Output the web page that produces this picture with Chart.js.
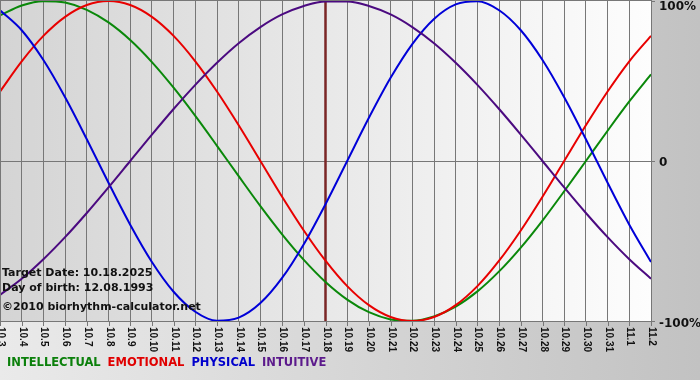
<!DOCTYPE html>
<html>
<head>
<meta charset="utf-8">
<script src="https://cdn.jsdelivr.net/npm/chart.js@4.4.1/dist/chart.umd.min.js"></script>
<style>
html, body { margin: 0; padding: 0; background: #d8d8d8; }
canvas { display: block; }
</style>
</head>
<body>
<canvas id="bio" width="700" height="380"></canvas>
<script>
const days = ['10.3', '10.4', '10.5', '10.6', '10.7', '10.8', '10.9', '10.10', '10.11', '10.12',
    '10.13', '10.14', '10.15', '10.16', '10.17', '10.18', '10.19', '10.20', '10.21', '10.22',
    '10.23', '10.24', '10.25', '10.26', '10.27', '10.28', '10.29', '10.30', '10.31', '11.1', '11.2'];

const intellectual = [0.910, 0.972, 0.999, 0.990, 0.945, 0.866, 0.756, 0.618, 0.458, 0.282, 0.095, -0.095, -0.282,
    -0.458, -0.618, -0.756, -0.866, -0.945, -0.990, -0.999, -0.972, -0.910, -0.815, -0.690, -0.541, -0.372, -0.189,
    0.000, 0.189, 0.372, 0.541];
const emotional = [0.434, 0.623, 0.782, 0.901, 0.975, 1.000, 0.975, 0.901, 0.782, 0.623, 0.434, 0.223, 0.000,
    -0.223, -0.434, -0.623, -0.782, -0.901, -0.975, -1.000, -0.975, -0.901, -0.782, -0.623, -0.434, -0.223,
    0.000, 0.223, 0.434, 0.623, 0.782];
const physical = [0.942, 0.817, 0.631, 0.398, 0.136, -0.136, -0.398, -0.631, -0.817, -0.942, -0.998, -0.979, -0.888,
    -0.731, -0.520, -0.270, 0.000, 0.270, 0.520, 0.731, 0.888, 0.979, 0.998, 0.942, 0.817, 0.631, 0.398, 0.136,
    -0.136, -0.398, -0.631];
const intuitive = [-0.837, -0.736, -0.614, -0.476, -0.325, -0.165, 0.000, 0.165, 0.325, 0.476, 0.614, 0.736, 0.837,
    0.916, 0.969, 0.997, 0.997, 0.969, 0.916, 0.837, 0.736, 0.614, 0.476, 0.325, 0.165, 0.000, -0.165, -0.325,
    -0.476, -0.614, -0.736];

const targetDay = '10.18';
const yLabels = [[1, '100%'], [0, '0'], [-1, '-100%']];
const legendItems = [['INTELLECTUAL', '#0b800b'], ['EMOTIONAL', '#e00000'], ['PHYSICAL', '#0000cc'], ['INTUITIVE', '#5c1a8c']];
const infoLines = ['Target Date: 10.18.2025', 'Day of birth: 12.08.1993', '\u00a92010 biorhythm-calculator.net'];

const bioPlugin = {
    id: 'bio',
    beforeDraw(chart) {
        const { ctx, chartArea: a, width, height } = chart;
        ctx.save();
        let g = ctx.createLinearGradient(0, 0, width, 0);
        g.addColorStop(0, '#eaeaea');
        g.addColorStop(1, '#c2c2c2');
        ctx.fillStyle = g;
        ctx.fillRect(0, 0, width, height);
        g = ctx.createLinearGradient(a.left, 0, a.right, 0);
        g.addColorStop(0, '#d4d4d4');
        g.addColorStop(1, '#fdfdfd');
        ctx.fillStyle = g;
        ctx.fillRect(a.left, a.top, a.right - a.left, a.bottom - a.top);
        ctx.restore();
    },
    beforeDatasetsDraw(chart) {
        const { ctx, chartArea: a } = chart;
        const x = chart.scales.x.getPixelForValue(days.indexOf(targetDay));
        ctx.save();
        ctx.strokeStyle = '#7a2626';
        ctx.lineWidth = 2.5;
        ctx.beginPath();
        ctx.moveTo(x, a.top);
        ctx.lineTo(x, a.bottom);
        ctx.stroke();
        ctx.restore();
    },
    afterDraw(chart) {
        const { ctx, chartArea: a } = chart;
        const xs = chart.scales.x, ys = chart.scales.y;
        ctx.save();

        // frame
        ctx.strokeStyle = '#777';
        ctx.lineWidth = 1;
        ctx.strokeRect(a.left + 0.5, a.top - 0.5, a.right - a.left, a.bottom - a.top + 1);

        // x ticks + rotated labels
        ctx.font = 'bold 10px "Liberation Sans", Arial, sans-serif';
        ctx.fillStyle = '#111';
        ctx.textAlign = 'left';
        ctx.textBaseline = 'middle';
        days.forEach((d, i) => {
            const x = Math.round(xs.getPixelForTick(i)) + 0.5;
            ctx.beginPath();
            ctx.moveTo(x, a.bottom);
            ctx.lineTo(x, a.bottom + 5);
            ctx.stroke();
            ctx.save();
            ctx.translate(x, a.bottom + 6);
            ctx.rotate(Math.PI / 2);
            ctx.fillText(d, 0, 0);
            ctx.restore();
        });

        // y labels on the right
        ctx.font = 'bold 12px "DejaVu Sans", Verdana, sans-serif';
        const yOff = { '1': 6, '0': 2, '-1': 3 };
        yLabels.forEach(([v, t]) => {
            const y = ys.getPixelForValue(v);
            ctx.beginPath();
            ctx.moveTo(a.right, Math.round(y) + 0.5);
            ctx.lineTo(a.right + 4, Math.round(y) + 0.5);
            ctx.stroke();
            ctx.fillText(t, a.right + 8, y + yOff[String(v)]);
        });

        // info text
        ctx.font = 'bold 11px "DejaVu Sans", Verdana, sans-serif';
        ctx.textBaseline = 'alphabetic';
        ctx.fillStyle = '#111';
        ctx.fillText(infoLines[0], 2, 276);
        ctx.fillText(infoLines[1], 2, 291);
        ctx.fillText(infoLines[2], 2, 310);

        // legend
        ctx.font = 'bold 11.5px "DejaVu Sans", Verdana, sans-serif';
        let lx = 7;
        legendItems.forEach(([t, c]) => {
            ctx.fillStyle = c;
            ctx.fillText(t, lx, 366);
            lx += ctx.measureText(t).width + 7;
        });
        ctx.restore();
    }
};

function series(label, data, color) {
    return {
        label: label,
        data: data,
        borderColor: color,
        borderWidth: 2,
        pointRadius: 0,
        cubicInterpolationMode: 'monotone',
        fill: false
    };
}

new Chart(document.getElementById('bio').getContext('2d'), {
    type: 'line',
    data: {
        labels: days,
        datasets: [
            series('INTUITIVE', intuitive, '#4b0a80'),
            series('PHYSICAL', physical, '#0000d8'),
            series('EMOTIONAL', emotional, '#e80000'),
            series('INTELLECTUAL', intellectual, '#0a880a')
        ]
    },
    options: {
        responsive: false,
        animation: false,
        layout: { padding: { top: 1, left: 0, right: 0, bottom: 0 } },
        scales: {
            x: {
                offset: false,
                ticks: { display: false },
                grid: { color: '#777', lineWidth: 1, drawTicks: false },
                border: { display: false },
                afterFit: s => { s.height = 59; }
            },
            y: {
                position: 'right',
                min: -1,
                max: 1,
                ticks: { display: false, stepSize: 1 },
                grid: {
                    drawTicks: false,
                    color: c => c.tick && c.tick.value === 0 ? '#777' : 'rgba(0,0,0,0)'
                },
                border: { display: false },
                afterFit: s => { s.width = 49; }
            }
        },
        plugins: {
            legend: { display: false },
            tooltip: { enabled: false }
        }
    },
    plugins: [bioPlugin]
});
</script>
</body>
</html>
